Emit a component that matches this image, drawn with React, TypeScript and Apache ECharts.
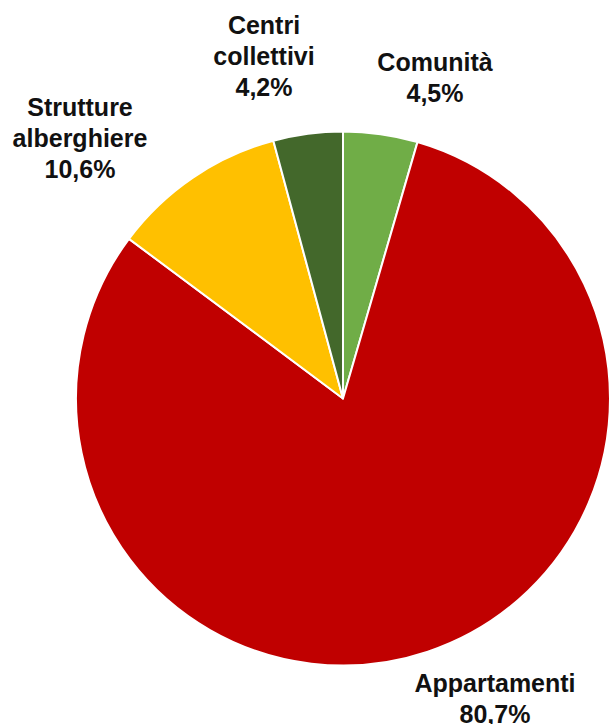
import React, { useEffect, useRef } from "react";
import * as echarts from "echarts";

const categories = ["Comunità", "Appartamenti", "Strutture alberghiere", "Centri collettivi"];
const shares = [4.5, 80.7, 10.6, 4.2];
const colors = ["#70AD47", "#C00000", "#FFC000", "#43682B"];
// label block centres (layout only)
const labelPos: [number, number][] = [
  [435, 77],
  [495, 698],
  [80, 138],
  [264, 56],
];

export default function App() {
  const ref = useRef<HTMLDivElement>(null);
  useEffect(() => {
    if (!ref.current) return;
    const chart = echarts.init(ref.current, undefined, { renderer: "svg" });
    chart.setOption({
      animation: false,
      backgroundColor: "#ffffff",
      series: [
        {
          type: "pie",
          center: [343, 398.5],
          radius: 267,
          startAngle: 90,
          clockwise: true,
          data: categories.map((name, i) => ({
            name,
            value: shares[i],
            itemStyle: { color: colors[i] },
          })),
          itemStyle: { borderColor: "#ffffff", borderWidth: 2 },
          label: {
            show: true,
            position: "outside",
            formatter: (p: any) =>
              p.name.replace(" ", "\n") + "\n" + Number(p.value).toFixed(1).replace(".", ",") + "%",
            fontFamily: "'Liberation Sans', Arial, sans-serif",
            fontWeight: "bold",
            fontSize: 25,
            lineHeight: 31,
            color: "#111111",
            align: "center",
            overflow: "none",
            width: 300,
          },
          labelLine: { show: false },
          labelLayout: (params: any) => ({
            x: labelPos[params.dataIndex][0],
            y: labelPos[params.dataIndex][1],
            align: "center",
            verticalAlign: "middle",
          }),
          emphasis: { disabled: true },
        },
      ],
    });
    return () => chart.dispose();
  }, []);
  return (
    <div
      ref={ref}
      style={{ position: "absolute", left: 0, top: 0, width: 611, height: 724 }}
    />
  );
}
